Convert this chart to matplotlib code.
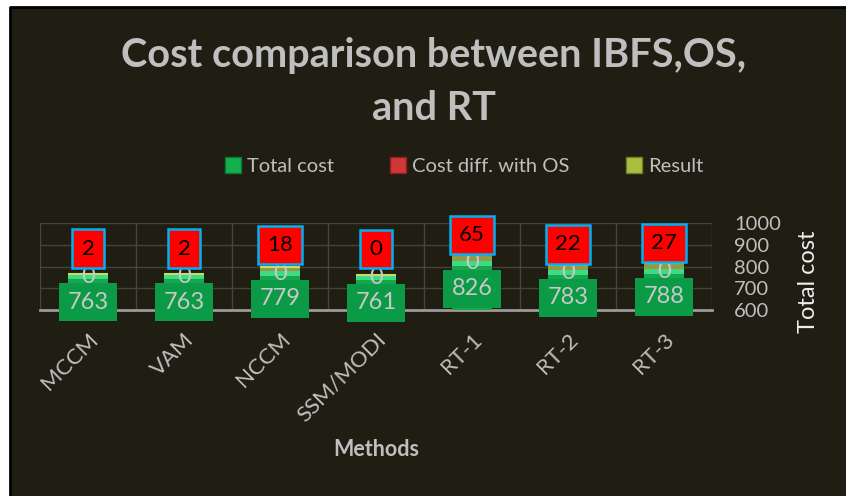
import matplotlib
matplotlib.use("Agg")
import matplotlib.pyplot as plt
from matplotlib.patches import Rectangle, Patch
from matplotlib.lines import Line2D
import numpy as np

# data
methods = ["MCCM", "VAM", "NCCM", "SSM/MODI", "RT-1", "RT-2", "RT-3"]
total_cost = [763, 763, 779, 761, 826, 783, 788]
cost_diff = [2, 2, 18, 0, 65, 22, 27]
result = [0, 0, 0, 0, 0, 0, 0]
y_ticks = [600, 700, 800, 900, 1000]

BG = "#201d12"
TXT = "#bfbfbf"
plt.rcParams["font.family"] = ["Lato", "DejaVu Sans"]

fig = plt.figure(figsize=(8.46, 4.96), dpi=100, facecolor="white")
# dark chart area, black border only on top/left (rest is cut off)
fig.patches.append(Rectangle((10 / 846, 0), 1, 1 - 7 / 496, transform=fig.transFigure,
                             facecolor=BG, edgecolor="none", zorder=-2))
fig.lines.append(Line2D([10 / 846, 10 / 846, 1], [0, 1 - 7 / 496, 1 - 7 / 496],
                        transform=fig.transFigure, color="black", linewidth=2, zorder=-1))

ax = fig.add_axes([40 / 846, 1 - 310 / 496, 672 / 846, 87 / 496])
ax.set_facecolor("none")
x = np.arange(len(methods))
w = 0.42

ax.bar(x, total_cost, w, color="#12a84c", zorder=3)
# lighter top face of the 3d bars
cap = 22
ax.bar(x, cap, w, bottom=np.array(total_cost) - cap, color="#3ddc84", zorder=3)
ax.bar(x, cost_diff, w, bottom=total_cost, color="#8f9c45", zorder=3)
top = np.array(total_cost) + np.array(cost_diff)
ax.bar(x, result, w, bottom=top, color="#b5c85a", edgecolor="#c9dc60", linewidth=1.5, zorder=3)

for xi, t, d, r in zip(x, total_cost, cost_diff, result):
    ax.annotate(str(t), (xi, t), xytext=(0, -20), textcoords="offset points",
                ha="center", va="center", fontsize=17, color="#c8c8c8", zorder=6,
                bbox=dict(boxstyle="square,pad=0.36", facecolor="#0b9a45", edgecolor="none"))
    ax.annotate(str(r), (xi, t), xytext=(0, -1.5), textcoords="offset points",
                ha="center", va="center", fontsize=17, color="#c8c8c8", zorder=5)
    ax.annotate(str(d), (xi, t), xytext=(0, 18.7), textcoords="offset points",
                ha="center", va="center", fontsize=16, color="black", zorder=6,
                bbox=dict(boxstyle="square,pad=0.42", facecolor="#ff0000", edgecolor="#00b0f0", linewidth=1.8))

ax.set_xlim(-0.5, len(methods) - 0.5)
ax.set_ylim(600, 1000)
ax.set_yticks(y_ticks)
ax.yaxis.tick_right()
ax.tick_params(axis="y", length=0, pad=16, labelsize=14.5, labelcolor=TXT)

ax.set_xticks(x)
ax.set_xticklabels(methods, rotation=45, ha="right", va="top", rotation_mode="anchor",
                   fontsize=16, color=TXT)
ax.tick_params(axis="x", length=0, pad=14)
ax.set_xticks(np.arange(len(methods) + 1) - 0.5, minor=True)
ax.tick_params(axis="x", which="minor", length=0)
ax.grid(True, axis="y", color="#45433a", linewidth=1, zorder=0)
ax.grid(True, axis="x", which="minor", color="#45433a", linewidth=1, zorder=0)
for s in ["top", "right", "left"]:
    ax.spines[s].set_visible(False)
ax.spines["bottom"].set_color("#9a9a9a")
ax.spines["bottom"].set_linewidth(2)

fig.text(808 / 846, 1 - 282 / 496, "Total cost", rotation=90, ha="center", va="center",
         fontsize=17, color="#eeeeee")
fig.text(434 / 846, 1 - 55 / 496, "Cost comparison between IBFS,OS,", ha="center", va="center",
         fontsize=28.5, fontweight="bold", color=TXT)
fig.text(434 / 846, 1 - 108 / 496, "and RT", ha="center", va="center",
         fontsize=28.5, fontweight="bold", color=TXT)
fig.text(376 / 846, 1 - 449 / 496, "Methods", ha="center", va="center",
         fontsize=15.5, fontweight="bold", color=TXT)

handles = [Patch(facecolor="#14b050", edgecolor="#0a7a35"),
           Patch(facecolor="#d03838", edgecolor="#902020"),
           Patch(facecolor="#a8c040", edgecolor="#708020")]
fig.legend(handles, ["Total cost", "Cost diff. with OS", "Result"], loc="center",
           bbox_to_anchor=(464 / 846, 1 - 166 / 496), ncol=3, frameon=False,
           fontsize=14.5, labelcolor=TXT, handlelength=0.8, handleheight=0.8,
           handletextpad=0.3, columnspacing=2.8)

fig.savefig("out.png", dpi=100, facecolor=fig.get_facecolor())
